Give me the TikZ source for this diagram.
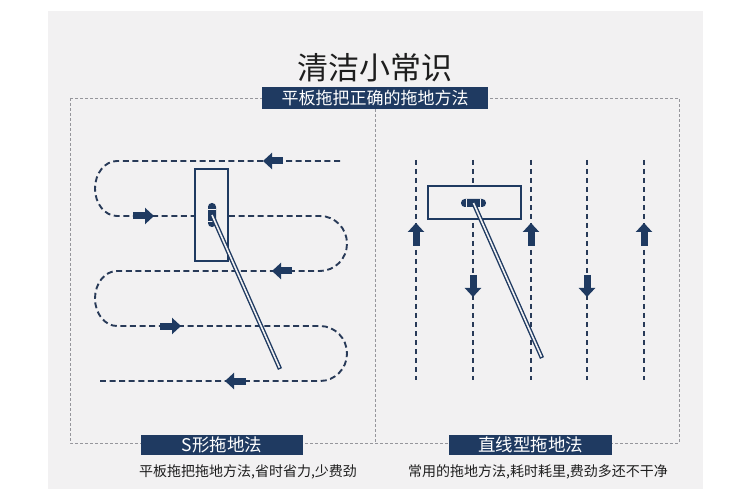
\documentclass[tikz,border=0pt]{standalone}
\usepackage{fontspec}
\setmainfont{Noto Sans CJK SC}
\usepackage{xcolor}
\definecolor{navy}{RGB}{31, 58, 97}
\definecolor{paper}{RGB}{242, 241, 242}
\definecolor{framegray}{RGB}{150, 150, 156}
\definecolor{inkgray}{RGB}{30, 30, 30}
\definecolor{lanecolor}{RGB}{40, 58, 88}
\usepackage{tikz}
\usetikzlibrary{arrows.meta,positioning,calc}

\begin{document}
\begin{tikzpicture}[x=1pt, y=-1pt,
  titletext/.style={text=inkgray, font=\fontsize{31}{31}\selectfont, inner sep=0pt},
  banner/.style={fill=navy, text=white, font=\fontsize{17}{17}\selectfont, inner sep=0pt, minimum height=22pt},
  subbanner/.style={fill=navy, text=white, font=\fontsize{17.5}{17.5}\selectfont, inner sep=0pt, minimum height=20pt},
  note/.style={text=inkgray, font=\fontsize{14}{14}\selectfont, inner sep=0pt},
  framebox/.style={draw=framegray, line width=0.8pt, dash pattern=on 3pt off 2pt},
  mopline/.style={draw=lanecolor, line width=1.9pt, dash pattern=on 6pt off 3.6pt},
  lanedash/.style={draw=lanecolor, line width=1.9pt, dash pattern=on 5pt off 4pt},
  flow/.style={navy, line width=7pt, -{Triangle[length=9pt, width=16pt]}},
  mophead/.style={draw=navy, fill=paper, line width=1.6pt, inner sep=0pt},
  clamp/.style={fill=navy, rounded corners=3.8pt, inner sep=0pt},
  handle/.style={draw=navy, line width=4.4pt},
  handlecore/.style={draw=paper, line width=1.6pt, shorten >=1.4pt}
]
\useasboundingbox (0,0) rectangle (750,489);
\fill[white] (0,0) rectangle (750,489);
\fill[paper] (48,11) rectangle (703,489);

% frame and divider
\draw[framebox] (70,98) rectangle (679,443);
\coordinate (divbot) at (375,443);

\node[titletext] (title) at (375,68) {清洁小常识};
\node[banner, minimum width=226pt] (head) at (375,98) {平板拖把正确的拖地方法};
\draw[framebox] (head.south) -- (divbot);

\node[subbanner, minimum width=162pt] (sname) at (222,445) {S形拖地法};
\node[subbanner, minimum width=163pt] (lname) at (530.5,445) {直线型拖地法};
\node[note] (snote) at (248,472) {平板拖把拖地方法,省时省力,少费劲};
\node[note] (lnote) at (538,472) {常用的拖地方法,耗时耗里,费劲多还不干净};

% S path
\draw[mopline] (340,161) -- (117,161)
  arc[start angle=270, end angle=90, x radius=22, y radius=27.5] -- (320,216)
  arc[start angle=270, end angle=450, x radius=27, y radius=27.5] -- (117,271)
  arc[start angle=270, end angle=90, x radius=22, y radius=27.5] -- (320,326)
  arc[start angle=270, end angle=450, x radius=27, y radius=27.5] -- (100,381);
\draw[flow] (283,161) -- (263,161);
\draw[flow] (133,216) -- (154,216);
\draw[flow] (292,271) -- (272,271);
\draw[flow] (160,326) -- (181,326);
\draw[flow] (246,381) -- (225,381);

% S mop
\node[mophead, minimum width=33pt, minimum height=92pt] (padS) at (211.5,215) {};
\node[clamp, minimum width=8pt, minimum height=24pt] (clampS) at (212,215) {};
\draw[paper, line width=0.7pt] (208,209.5) -- (216,209.5);
\draw[paper, line width=0.7pt] (208,221.5) -- (216,221.5);
\coordinate (gripS) at (280,369);
\draw[handle] (clampS.center) -- (gripS);
\draw[handlecore] (clampS.center) -- (gripS);

% straight lanes
\foreach \x in {416,473,531,587,644}
  \draw[lanedash] (\x,160) -- (\x,380);
\foreach \x in {416,531,644}
  \draw[flow] (\x,246) -- (\x,223);
\foreach \x in {473,587}
  \draw[flow] (\x,275) -- (\x,297);

% straight mop
\node[mophead, minimum width=93pt, minimum height=33pt] (padL) at (474.5,202.5) {};
\node[clamp, minimum width=25pt, minimum height=8pt] (clampL) at (473.5,203) {};
\draw[paper, line width=0.7pt] (466.5,199) -- (466.5,207);
\draw[paper, line width=0.7pt] (480.5,199) -- (480.5,207);
\coordinate (gripL) at (542,358);
\draw[handle] (clampL.center) -- (gripL);
\draw[handlecore] (clampL.center) -- (gripL);
\end{tikzpicture}
\end{document}
